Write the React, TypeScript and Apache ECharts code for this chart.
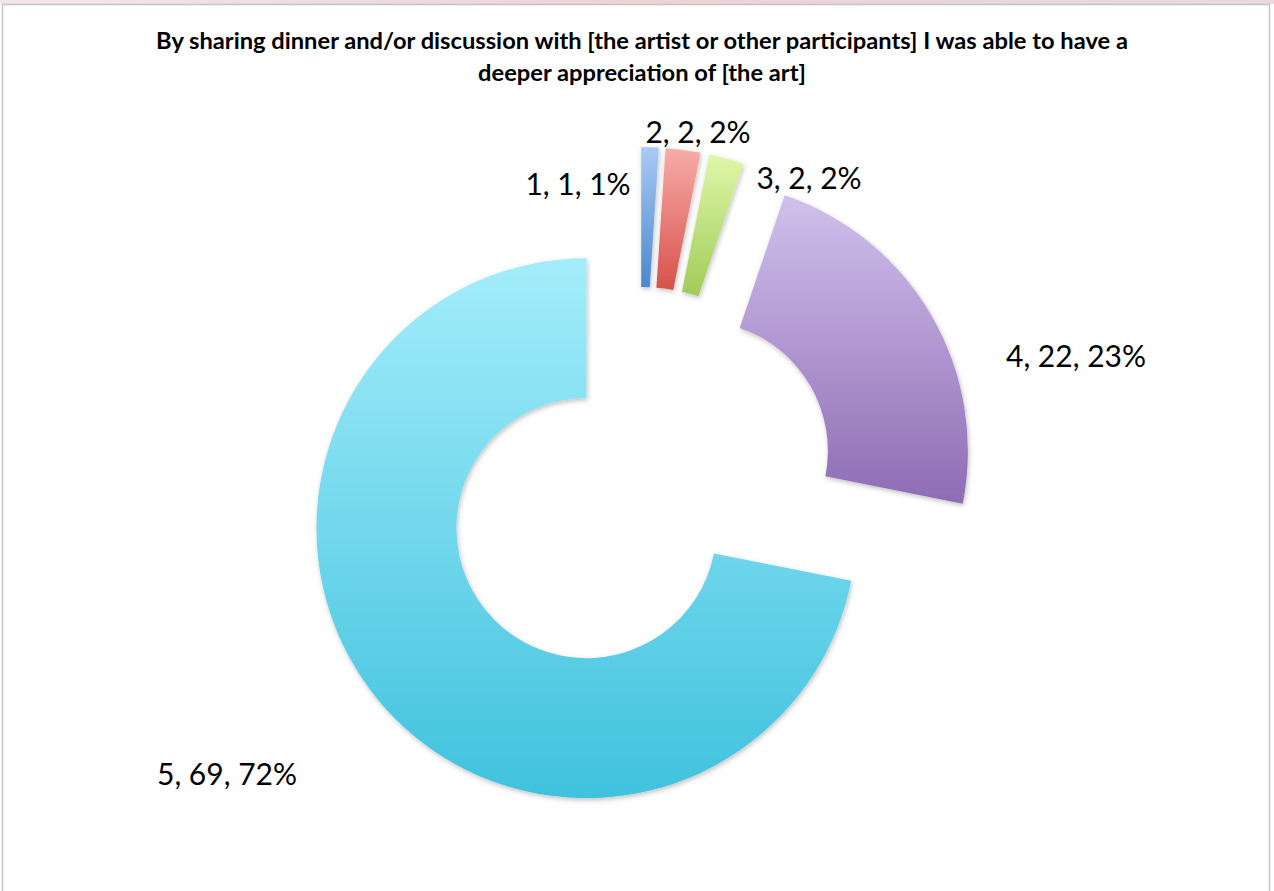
import React, { useEffect, useRef } from "react";
import * as echarts from "echarts";

const titleText =
  "By sharing dinner and/or discussion with [the artist or other participants] I was able to have a\ndeeper appreciation of [the art]";
const categories = ["1", "2", "3", "4", "5"];
const counts = [1, 2, 2, 22, 69];
const topColors = ["#a9caf4", "#f8aca8", "#e0f7a8", "#d1c0ec", "#a4edfb"];
const bottomColors = ["#4b88cc", "#d6514b", "#a0cb57", "#8e6cb4", "#40c2de"];
const labelPositions = [
  [578, 183],
  [698, 131],
  [809, 177],
  [1076, 355],
  [227, 773],
];

export default function App() {
  const ref = useRef<HTMLDivElement>(null);
  useEffect(() => {
    document.body.style.margin = "0";
    const chart = echarts.init(ref.current!, null, { renderer: "svg" });
    const total = counts.reduce((a, b) => a + b, 0);
    const data = categories.map((c, i) => ({
      name: c,
      value: counts[i],
      selected: true,
      itemStyle: {
        color: new echarts.graphic.LinearGradient(0, 0, 0, 1, [
          { offset: 0, color: topColors[i] },
          { offset: 1, color: bottomColors[i] },
        ]),
      },
    }));
    const labelTexts = categories.map(
      (c, i) => `${c}, ${counts[i]}, ${Math.round((counts[i] / total) * 100)}%`
    );
    chart.setOption({
      animation: false,
      backgroundColor: "#ffffff",
      title: {
        text: titleText,
        left: 637,
        top: 19,
        textAlign: "center",
        textStyle: {
          fontFamily: "Lato",
          fontWeight: "bold",
          fontSize: 23.7,
          lineHeight: 32,
          color: "#000000",
        },
      },
      graphic: [
        {
          type: "rect",
          shape: { x: 0, y: 0, width: 1274, height: 4 },
          style: {
            fill: new echarts.graphic.LinearGradient(0, 0, 1, 0, [
              { offset: 0, color: "#f3e6e8" },
              { offset: 0.5, color: "#ecd3d6" },
              { offset: 1, color: "#e9dadd" },
            ]),
          },
          silent: true,
        },
        {
          type: "rect",
          shape: { x: 2.5, y: 4.5, width: 1267, height: 900 },
          style: { fill: "none", stroke: "#c4c4c4", lineWidth: 1.5 },
          silent: true,
        },
        ...labelTexts.map((t, i) => ({
          type: "text",
          x: labelPositions[i][0],
          y: labelPositions[i][1],
          silent: true,
          style: {
            text: t,
            fontFamily: "Lato",
            fontSize: 30,
            fill: "#000000",
            align: "center",
            verticalAlign: "middle",
          },
        })),
      ],
      series: [
        {
          type: "pie",
          center: [639, 485],
          radius: [130, 270],
          startAngle: 90,
          clockwise: true,
          selectedMode: "multiple",
          selectedOffset: 68,
          itemStyle: {
            shadowBlur: 5,
            shadowColor: "rgba(0,0,0,0.25)",
            shadowOffsetX: 1,
            shadowOffsetY: 2,
          },
          label: { show: false },
          labelLine: { show: false },
          emphasis: { disabled: true },
          data,
        },
      ],
    });
    return () => chart.dispose();
  }, []);
  return <div ref={ref} style={{ width: 1274, height: 891 }} />;
}
